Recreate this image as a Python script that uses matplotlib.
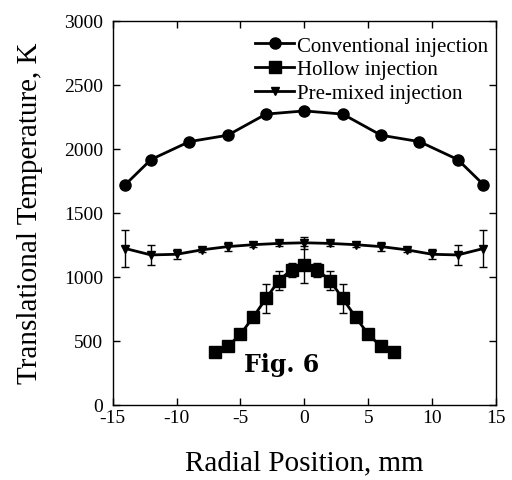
import matplotlib
matplotlib.use("Agg")
import matplotlib.pyplot as plt
import numpy as np

conv_x = [-14, -12, -9, -6, -3, 0, 3, 6, 9, 12, 14]
conv_y = [1720, 1915, 2055, 2105, 2270, 2295, 2270, 2105, 2055, 1915, 1720]

hol_x = [-7, -6, -5, -4, -3, -2, -1, 0, 1, 2, 3, 4, 5, 6, 7]
hol_y = [410, 455, 550, 685, 830, 970, 1055, 1095, 1055, 970, 830, 685, 550, 455, 410]
hol_err = [0, 0, 0, 0, 110, 75, 55, 145, 55, 75, 110, 0, 0, 0, 0]

pre_x = [-14, -12, -10, -8, -6, -4, -2, 0, 2, 4, 6, 8, 10, 12, 14]
pre_y = [1220, 1170, 1175, 1210, 1235, 1250, 1260, 1265, 1260, 1250, 1235, 1210, 1175, 1170, 1220]
pre_err = [148, 78, 40, 15, 33, 15, 22, 45, 22, 15, 33, 15, 40, 78, 148]

plt.rcParams['font.family'] = ['Liberation Serif', 'DejaVu Serif']

fig = plt.figure(figsize=(5.12, 4.81), dpi=100)
ax = fig.add_axes([0.220, 0.1565, 0.749, 0.7985])

ekw = dict(ecolor='black', elinewidth=1, capsize=3, capthick=1)
ax.errorbar(conv_x, conv_y, color='black', lw=2, marker='o', ms=8,
            label='Conventional injection')
ax.errorbar(hol_x, hol_y, yerr=hol_err, color='black', lw=2, marker='s', ms=9,
            label='Hollow injection', **ekw)
ax.errorbar(pre_x, pre_y, yerr=pre_err, color='black', lw=2, marker='v', ms=6,
            label='Pre-mixed injection', **ekw)

ax.set_xlim(-15, 15)
ax.set_ylim(0, 3000)
ax.set_xticks([-15, -10, -5, 0, 5, 10, 15])
ax.set_xticklabels(['-15', '-10', '-5', '0', '5', '10', '15'])
ax.set_yticks([0, 500, 1000, 1500, 2000, 2500, 3000])
ax.tick_params(direction='in', top=True, right=True, length=5, width=1,
               labelsize=14)
ax.tick_params(axis='y', pad=7)
ax.tick_params(axis='x', pad=3)
for s in ax.spines.values():
    s.set_linewidth(1)

ax.set_xlabel('Radial Position, mm', fontsize=21, labelpad=17)
ax.set_ylabel('Translational Temperature, K', fontsize=21, labelpad=15)

handles, labels = ax.get_legend_handles_labels()
handles = [h[0] for h in handles]
leg = ax.legend(handles, labels, loc='upper right', frameon=False, fontsize=15,
                handlelength=1.9, handletextpad=0.1, labelspacing=0.2,
                borderaxespad=0.2, borderpad=0.3,
                bbox_to_anchor=(1.005, 0.987))

ax.text(-1.75, 318, 'Fig. 6', fontsize=17, fontweight='bold',
        family=['DejaVu Serif'], ha='center', va='center')

fig.savefig('out.png', dpi=100)
